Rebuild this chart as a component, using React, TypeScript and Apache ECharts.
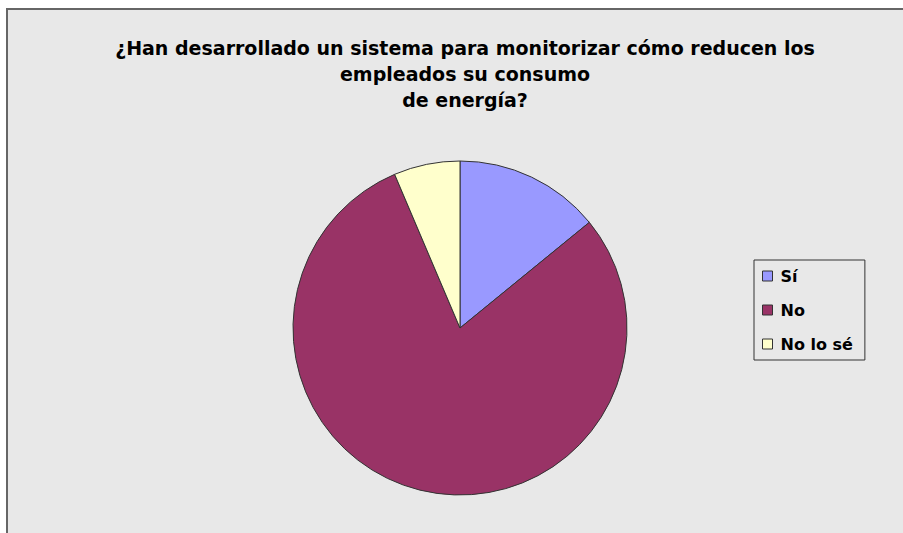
import React, { useEffect, useRef } from "react";
import * as echarts from "echarts";

const categories = ["Sí", "No", "No lo sé"];
const values = [14.1, 79.5, 6.4];
const colors = ["#9999FF", "#993366", "#FFFFCC"];
const titleText = "¿Han desarrollado un sistema para monitorizar cómo reducen los\nempleados su consumo\nde energía?";

export default function App() {
  const ref = useRef<HTMLDivElement>(null);
  useEffect(() => {
    const chart = echarts.init(ref.current!, null, { renderer: "svg" });
    chart.setOption({
      animation: false,
      backgroundColor: "#ffffff",
      graphic: [
        {
          type: "rect",
          z: -10,
          shape: { x: 7, y: 9, width: 910, height: 540 },
          style: { fill: "#E8E8E8", stroke: "#666666", lineWidth: 2 },
        },
      ],
      title: {
        text: titleText,
        left: 460,
        top: 30,
        textAlign: "center",
        textStyle: {
          fontFamily: "DejaVu Sans",
          fontWeight: "bold",
          fontSize: 19,
          lineHeight: 26,
          color: "#000",
        },
      },
      legend: {
        orient: "vertical",
        left: 754,
        top: 260,
        padding: [6, 12, 6, 8],
        itemGap: 14,
        itemWidth: 10,
        itemHeight: 10,
        icon: "rect",
        borderColor: "#333",
        borderWidth: 1,
        data: categories,
        itemStyle: { borderColor: "#333", borderWidth: 1 },
        textStyle: {
          fontFamily: "DejaVu Sans",
          fontWeight: "bold",
          fontSize: 16,
          lineHeight: 20,
          color: "#000",
          padding: [0, 0, 0, 3],
        },
      },
      series: [
        {
          type: "pie",
          center: [460, 328],
          radius: 167,
          startAngle: 90,
          clockwise: true,
          label: { show: false },
          labelLine: { show: false },
          emphasis: { disabled: true },
          itemStyle: { borderColor: "#333", borderWidth: 1 },
          data: categories.map((c, i) => ({ name: c, value: values[i], itemStyle: { color: colors[i] } })),
        },
      ],
    });
    return () => chart.dispose();
  }, []);
  return <div ref={ref} style={{ position: "absolute", left: 0, top: 0, width: 903, height: 533 }} />;
}
